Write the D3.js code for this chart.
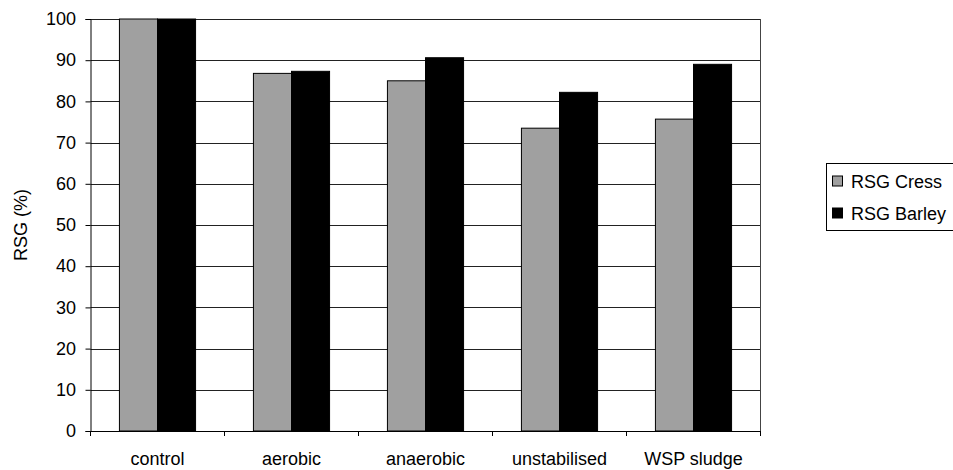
<!DOCTYPE html>
<html><head><meta charset="utf-8">
<script src="https://cdn.jsdelivr.net/npm/d3@7"></script>
<style>body{margin:0;background:#fff;} text{font-family:"Liberation Sans",Arial,sans-serif;}</style>
</head><body>
<svg id="c" width="953" height="470"></svg>
<script>
const categories = ["control","aerobic","anaerobic","unstabilised","WSP sludge"];
const seriesNames = ["RSG Cress","RSG Barley"];
const cress = [100, 86.8, 85.0, 73.5, 75.7];
const barley = [100, 87.3, 90.6, 82.2, 89.0];
const yTicks = [0,10,20,30,40,50,60,70,80,90,100];
const colors = ["#a0a0a0","#000000"];

const FS = 18;
const svg = d3.select("#c");
const L = 90.5, R = 760.5, T = 19, B = 431;
const x = d3.scaleBand().domain(categories).range([L, R]);
const xs = d3.scaleBand().domain(seriesNames).range([0, x.bandwidth()]).paddingInner(0).paddingOuter(0.76);
const y = d3.scaleLinear().domain([0,100]).range([B, T]);

// gridlines
svg.append("g").selectAll("line").data(yTicks.filter(d=>d>0)).join("line")
  .attr("x1", L).attr("x2", R).attr("y1", d=>Math.round(y(d))+0.5).attr("y2", d=>Math.round(y(d))+0.5)
  .attr("stroke", "#222").attr("stroke-width", 1);
// right border
svg.append("line").attr("x1", R).attr("x2", R).attr("y1", T).attr("y2", B).attr("stroke","#444").attr("stroke-width",1);

const data = [cress, barley];
const g = svg.append("g");
categories.forEach((c, i) => {
  seriesNames.forEach((s, j) => {
    const v = data[j][i];
    g.append("rect")
      .attr("x", x(c) + xs(s)).attr("width", xs.bandwidth())
      .attr("y", y(v)).attr("height", y(0) - y(v))
      .attr("fill", colors[j]).attr("stroke", "#000").attr("stroke-width", 1);
  });
});

// y axis
const ya = d3.axisLeft(y).tickValues(yTicks).tickSize(5).tickPadding(9.5);
const yg = svg.append("g").attr("transform", `translate(${L},0)`).call(ya);
yg.select(".domain").attr("stroke","#000");
yg.selectAll("line").attr("stroke","#000");
yg.selectAll("text").attr("font-size", FS).attr("fill","#000").style("font-family","'Liberation Sans',Arial,sans-serif");

// x axis
const xa = d3.axisBottom(x).tickSize(0).tickPadding(21);
const xg = svg.append("g").attr("transform", `translate(0,${B})`).call(xa);
xg.select(".domain").attr("stroke","#000");
xg.selectAll("text").attr("font-size", FS).attr("fill","#000").style("font-family","'Liberation Sans',Arial,sans-serif");
// category boundary ticks
xg.append("g").selectAll("line").data(d3.range(categories.length+1)).join("line")
  .attr("x1", d=>L + d*x.step()).attr("x2", d=>L + d*x.step())
  .attr("y1", 0).attr("y2", 5).attr("stroke","#000");

// y title
svg.append("text").attr("transform", `translate(27,${(T+B)/2}) rotate(-90)`)
  .attr("text-anchor","middle").attr("font-size",FS).text("RSG (%)");

// legend
const lg = svg.append("g");
lg.append("rect").attr("x", 826.5).attr("y", 163.5).attr("width", 140).attr("height", 67)
  .attr("fill","#fff").attr("stroke","#000");
seriesNames.forEach((s, j) => {
  const cy = 181 + j*32;
  lg.append("rect").attr("x", 832.5).attr("y", cy-5).attr("width", 10).attr("height", 10)
    .attr("fill", colors[j]).attr("stroke","#000");
  lg.append("text").attr("x", 851).attr("y", cy+6.5).attr("font-size",FS).text(s);
});
</script>
</body></html>
